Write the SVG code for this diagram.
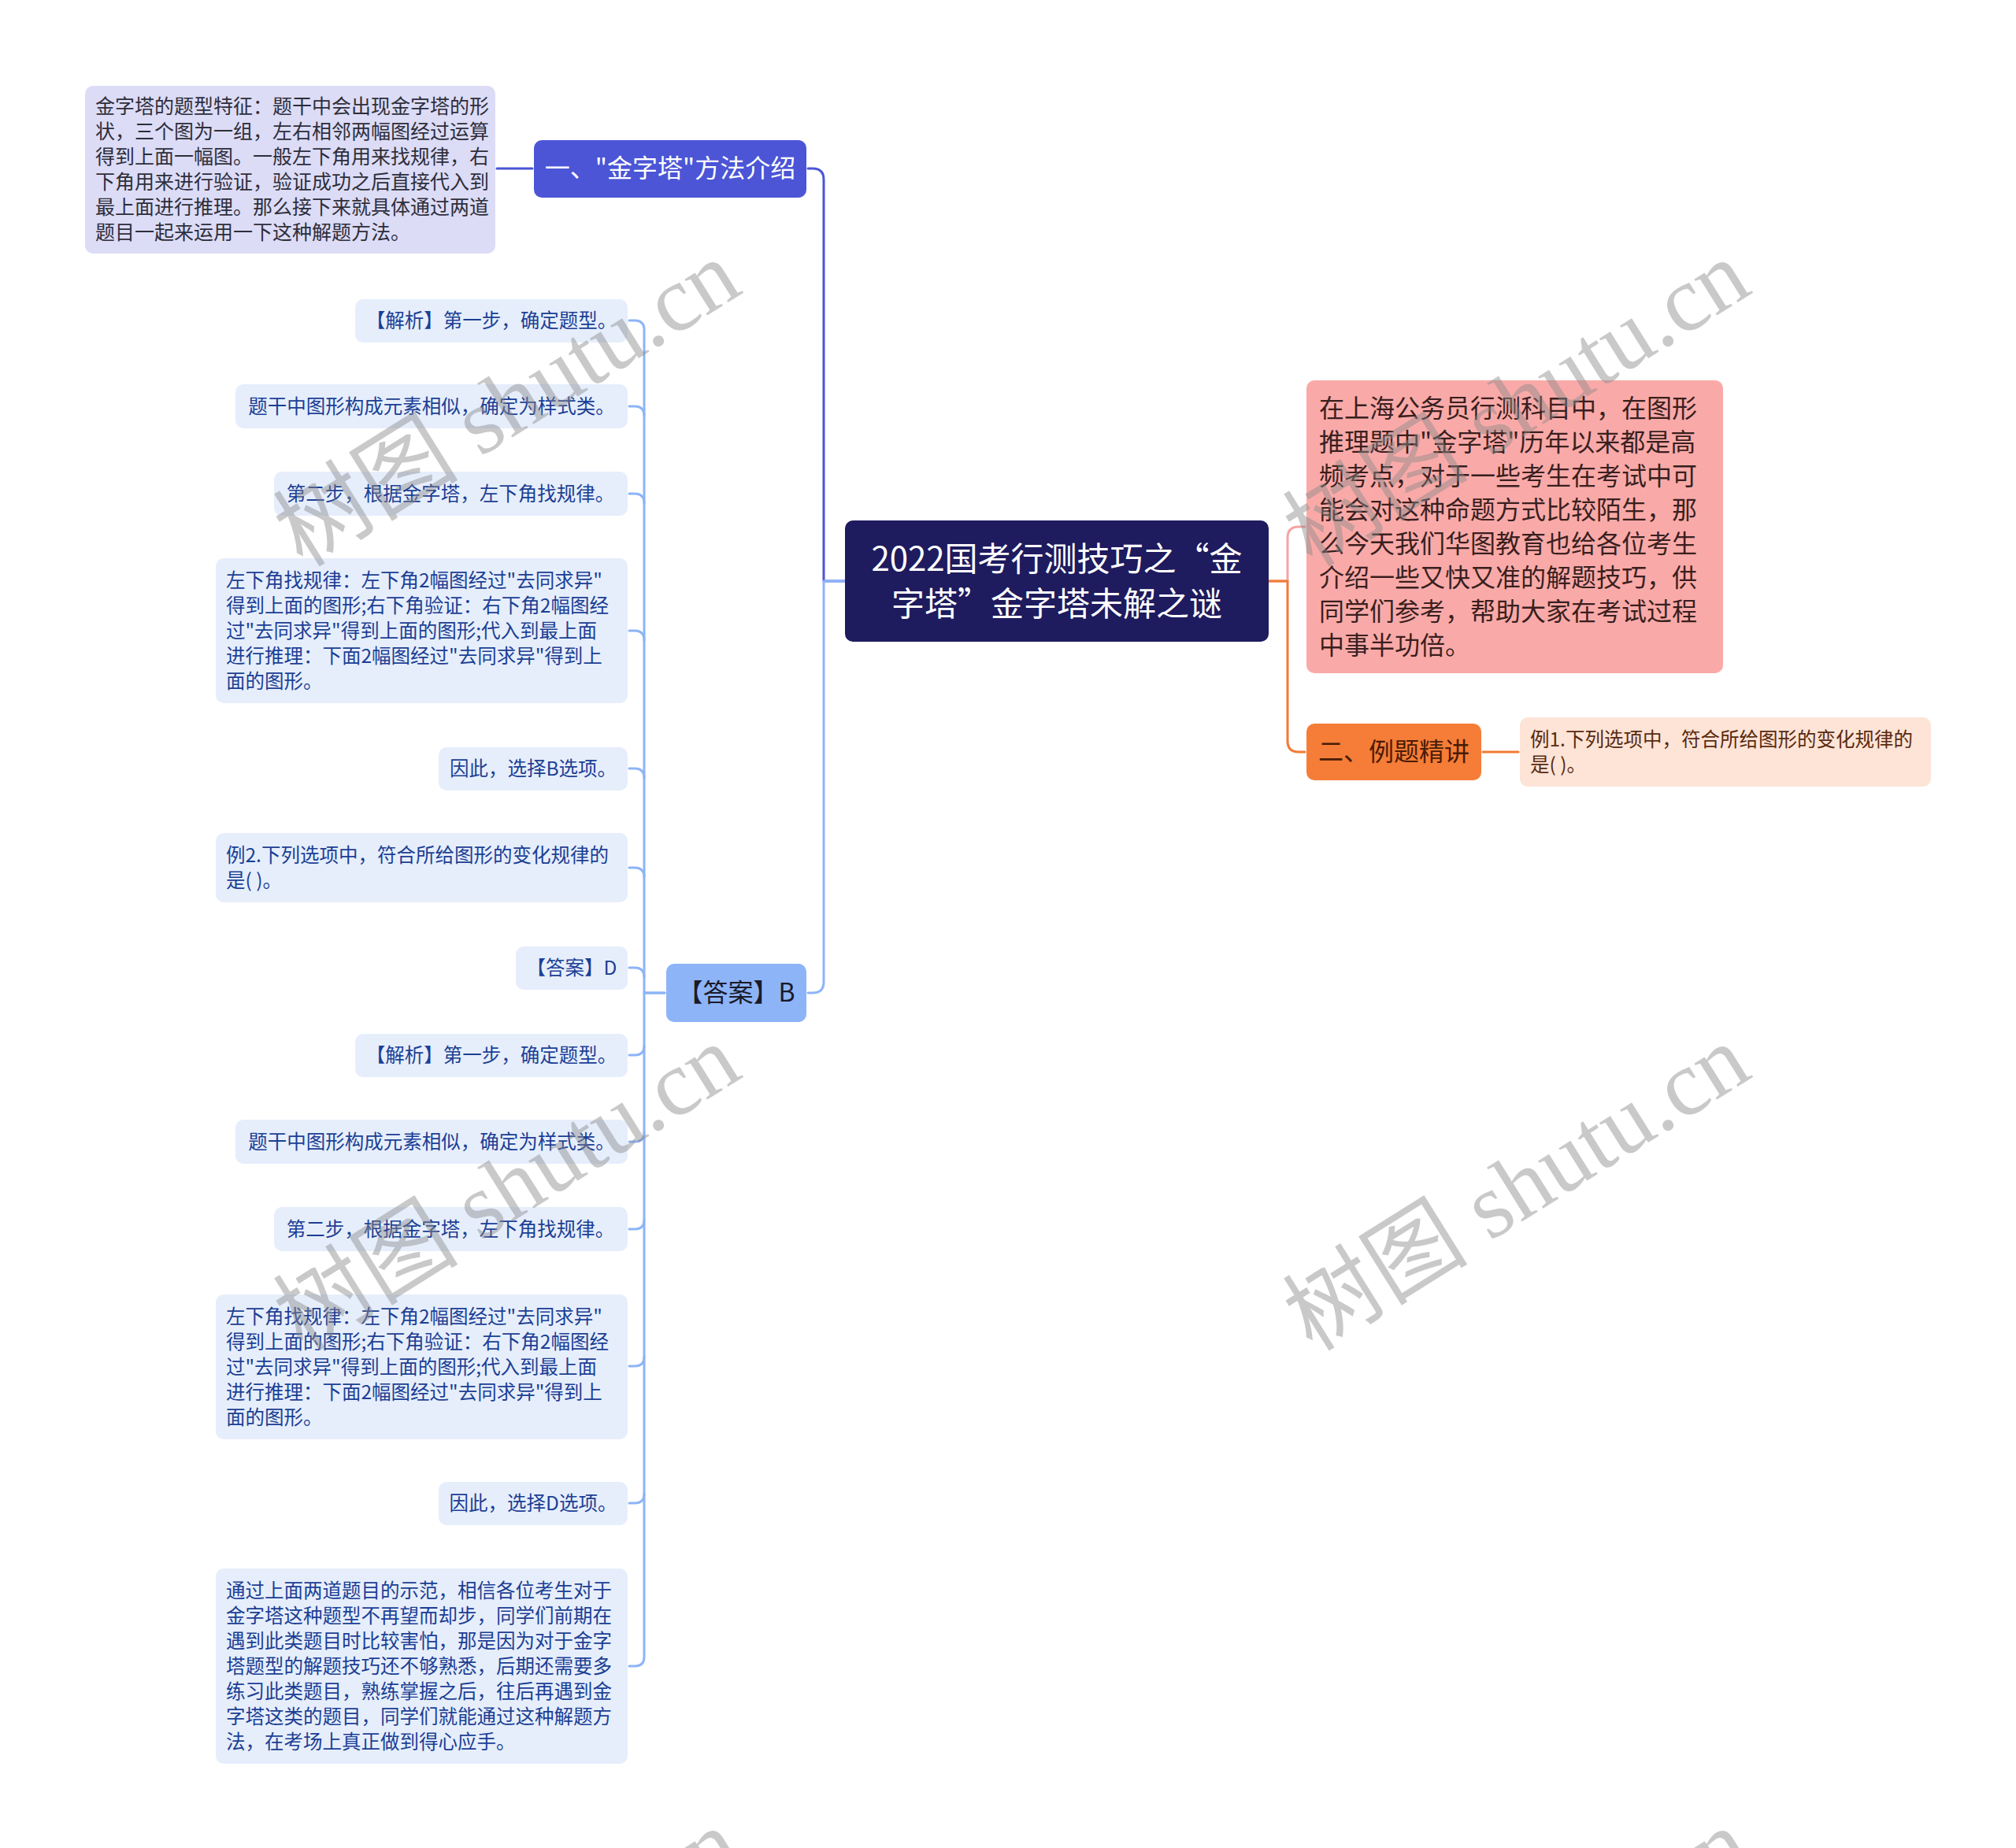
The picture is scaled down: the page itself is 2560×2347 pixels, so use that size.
<svg xmlns="http://www.w3.org/2000/svg" width="2560" height="2347" viewBox="0 0 2560 2347">
<style>
text{font-family:"Noto Sans CJK SC","Noto Sans",sans-serif}
.c{fill:none;stroke-width:3;stroke-linecap:round;stroke-linejoin:round}
.ind{stroke:#4b55d6}.lb{stroke:#8db4f7}.pk{stroke:#f5a3a3}.or{stroke:#f27a36}
.leaf{fill:#e6eefc}
.lt{font-size:24.5px;fill:#1c3f94}
.wm{font-family:"Liberation Serif","Noto Sans CJK SC",serif;font-size:118px;fill:#8a8a8a;opacity:0.45}
</style>
<rect width="2560" height="2347" fill="#ffffff"/>
<g id="connectors">
<path class="c ind" d="M1073,738 H1046 V228 Q1046,214 1032,214 H1026"/>
<path class="c lb" d="M1073,738 H1046 V1247 Q1046,1261 1032,1261 H1026"/>
<path class="c ind" d="M676,214 H631"/>
<path class="c pk" d="M1611,738 H1635 V683 Q1635,669 1649,669 H1657"/>
<path class="c or" d="M1611,738 H1635 V941 Q1635,955 1649,955 H1657"/>
<path class="c or" d="M1883,955 H1928"/>
<g class="c lb">
<path d="M844,1261 H818 V419 Q818,407 806,407 H799"/>
<path d="M818,528 Q818,516 806,516 H799"/>
<path d="M818,639 Q818,627 806,627 H799"/>
<path d="M818,813 Q818,801 806,801 H799"/>
<path d="M818,988 Q818,976 806,976 H799"/>
<path d="M818,1114 Q818,1102 806,1102 H799"/>
<path d="M818,1241 Q818,1229 806,1229 H799"/>
<path d="M844,1261 H818 V2104 Q818,2116 806,2116 H799"/>
<path d="M818,1328 Q818,1340 806,1340 H799"/>
<path d="M818,1438 Q818,1450 806,1450 H799"/>
<path d="M818,1549 Q818,1561 806,1561 H799"/>
<path d="M818,1723 Q818,1735 806,1735 H799"/>
<path d="M818,1897 Q818,1909 806,1909 H799"/>
</g>
</g>
<g id="root">
<rect x="1073" y="661" width="538" height="154" rx="10" fill="#1e1b5e"/>
<text x="1342" y="725" font-size="42" fill="#ffffff" text-anchor="middle">2022国考行测技巧之“金</text>
<text x="1342" y="782" font-size="42" fill="#ffffff" text-anchor="middle">字塔”金字塔未解之谜</text>
</g>
<g id="n-intro">
<rect x="678" y="178" width="346" height="73" rx="10" fill="#4b55d6"/>
<text x="851" y="225" font-size="32" fill="#ffffff" text-anchor="middle">一、"金字塔"方法介绍</text>
</g>
<g id="n-intro-detail">
<rect x="108" y="109" width="521" height="213" rx="10" fill="#dcdcf7"/>
<g font-size="25" fill="#2e2e3a">
<text x="121" y="144">金字塔的题型特征：题干中会出现金字塔的形</text>
<text x="121" y="176">状，三个图为一组，左右相邻两幅图经过运算</text>
<text x="121" y="208">得到上面一幅图。一般左下角用来找规律，右</text>
<text x="121" y="240">下角用来进行验证，验证成功之后直接代入到</text>
<text x="121" y="272">最上面进行推理。那么接下来就具体通过两道</text>
<text x="121" y="304">题目一起来运用一下这种解题方法。</text>
</g>
</g>
<g id="n-answerB">
<rect x="846" y="1224" width="178" height="74" rx="10" fill="#8db4f7"/>
<text x="935" y="1272" font-size="32" fill="#1a1a2a" text-anchor="middle">【答案】B</text>
</g>
<g id="n-l1">
<rect class="leaf" x="451" y="380" width="346" height="55" rx="10"/>
<text class="lt" x="624" y="416" text-anchor="middle">【解析】第一步，确定题型。</text>
</g>
<g id="n-l2">
<rect class="leaf" x="299" y="488" width="498" height="56" rx="10"/>
<text class="lt" x="548" y="525" text-anchor="middle">题干中图形构成元素相似，确定为样式类。</text>
</g>
<g id="n-l3">
<rect class="leaf" x="348" y="599" width="449" height="56" rx="10"/>
<text class="lt" x="572" y="636" text-anchor="middle">第二步，根据金字塔，左下角找规律。</text>
</g>
<g id="n-l4">
<rect class="leaf" x="274" y="709" width="523" height="184" rx="10"/>
<g class="lt">
<text x="287" y="746">左下角找规律：左下角2幅图经过"去同求异"</text>
<text x="287" y="778">得到上面的图形;右下角验证：右下角2幅图经</text>
<text x="287" y="810">过"去同求异"得到上面的图形;代入到最上面</text>
<text x="287" y="842">进行推理：下面2幅图经过"去同求异"得到上</text>
<text x="287" y="874">面的图形。</text>
</g>
</g>
<g id="n-l5">
<rect class="leaf" x="557" y="949" width="240" height="55" rx="10"/>
<text class="lt" x="677" y="985" text-anchor="middle">因此，选择B选项。</text>
</g>
<g id="n-l6">
<rect class="leaf" x="274" y="1058" width="523" height="88" rx="10"/>
<g class="lt">
<text x="287" y="1095">例2.下列选项中，符合所给图形的变化规律的</text>
<text x="287" y="1127">是( )。</text>
</g>
</g>
<g id="n-l7">
<rect class="leaf" x="655" y="1202" width="142" height="55" rx="10"/>
<text class="lt" x="726" y="1238" text-anchor="middle">【答案】D</text>
</g>
<g id="n-l8">
<rect class="leaf" x="451" y="1313" width="346" height="55" rx="10"/>
<text class="lt" x="624" y="1349" text-anchor="middle">【解析】第一步，确定题型。</text>
</g>
<g id="n-l9">
<rect class="leaf" x="299" y="1422" width="498" height="56" rx="10"/>
<text class="lt" x="548" y="1459" text-anchor="middle">题干中图形构成元素相似，确定为样式类。</text>
</g>
<g id="n-l10">
<rect class="leaf" x="348" y="1533" width="449" height="56" rx="10"/>
<text class="lt" x="572" y="1570" text-anchor="middle">第二步，根据金字塔，左下角找规律。</text>
</g>
<g id="n-l11">
<rect class="leaf" x="274" y="1644" width="523" height="184" rx="10"/>
<g class="lt">
<text x="287" y="1681">左下角找规律：左下角2幅图经过"去同求异"</text>
<text x="287" y="1713">得到上面的图形;右下角验证：右下角2幅图经</text>
<text x="287" y="1745">过"去同求异"得到上面的图形;代入到最上面</text>
<text x="287" y="1777">进行推理：下面2幅图经过"去同求异"得到上</text>
<text x="287" y="1809">面的图形。</text>
</g>
</g>
<g id="n-l12">
<rect class="leaf" x="557" y="1882" width="240" height="55" rx="10"/>
<text class="lt" x="677" y="1918" text-anchor="middle">因此，选择D选项。</text>
</g>
<g id="n-l13">
<rect class="leaf" x="274" y="1992" width="523" height="248" rx="10"/>
<g class="lt">
<text x="287" y="2029">通过上面两道题目的示范，相信各位考生对于</text>
<text x="287" y="2061">金字塔这种题型不再望而却步，同学们前期在</text>
<text x="287" y="2093">遇到此类题目时比较害怕，那是因为对于金字</text>
<text x="287" y="2125">塔题型的解题技巧还不够熟悉，后期还需要多</text>
<text x="287" y="2157">练习此类题目，熟练掌握之后，往后再遇到金</text>
<text x="287" y="2189">字塔这类的题目，同学们就能通过这种解题方</text>
<text x="287" y="2221">法，在考场上真正做到得心应手。</text>
</g>
</g>
<g id="n-summary">
<rect x="1659" y="483" width="529" height="372" rx="10" fill="#f9aaa8"/>
<g font-size="32" fill="#3a1f1f">
<text x="1675" y="530">在上海公务员行测科目中，在图形</text>
<text x="1675" y="573">推理题中"金字塔"历年以来都是高</text>
<text x="1675" y="616">频考点，对于一些考生在考试中可</text>
<text x="1675" y="659">能会对这种命题方式比较陌生，那</text>
<text x="1675" y="702">么今天我们华图教育也给各位考生</text>
<text x="1675" y="745">介绍一些又快又准的解题技巧，供</text>
<text x="1675" y="788">同学们参考，帮助大家在考试过程</text>
<text x="1675" y="831">中事半功倍。</text>
</g>
</g>
<g id="n-examples">
<rect x="1659" y="919" width="222" height="72" rx="10" fill="#f57d38"/>
<text x="1770" y="966" font-size="32" fill="#4a1c06" text-anchor="middle">二、例题精讲</text>
</g>
<g id="n-ex1">
<rect x="1930" y="911" width="522" height="88" rx="10" fill="#fde4d6"/>
<g font-size="24.5" fill="#5a2a10">
<text x="1943" y="948">例1.下列选项中，符合所给图形的变化规律的</text>
<text x="1943" y="980">是( )。</text>
</g>
</g>
<g id="watermarks">
<text class="wm" transform="translate(645,514) rotate(-32)" x="0" y="38" text-anchor="middle">树图 shutu.cn</text>
<text class="wm" transform="translate(1927,514) rotate(-32)" x="0" y="38" text-anchor="middle">树图 shutu.cn</text>
<text class="wm" transform="translate(645,1510) rotate(-32)" x="0" y="38" text-anchor="middle">树图 shutu.cn</text>
<text class="wm" transform="translate(1927,1510) rotate(-32)" x="0" y="38" text-anchor="middle">树图 shutu.cn</text>
<text class="wm" transform="translate(645,2506) rotate(-32)" x="0" y="38" text-anchor="middle">树图 shutu.cn</text>
<text class="wm" transform="translate(1927,2506) rotate(-32)" x="0" y="38" text-anchor="middle">树图 shutu.cn</text>
</g>
</svg>
